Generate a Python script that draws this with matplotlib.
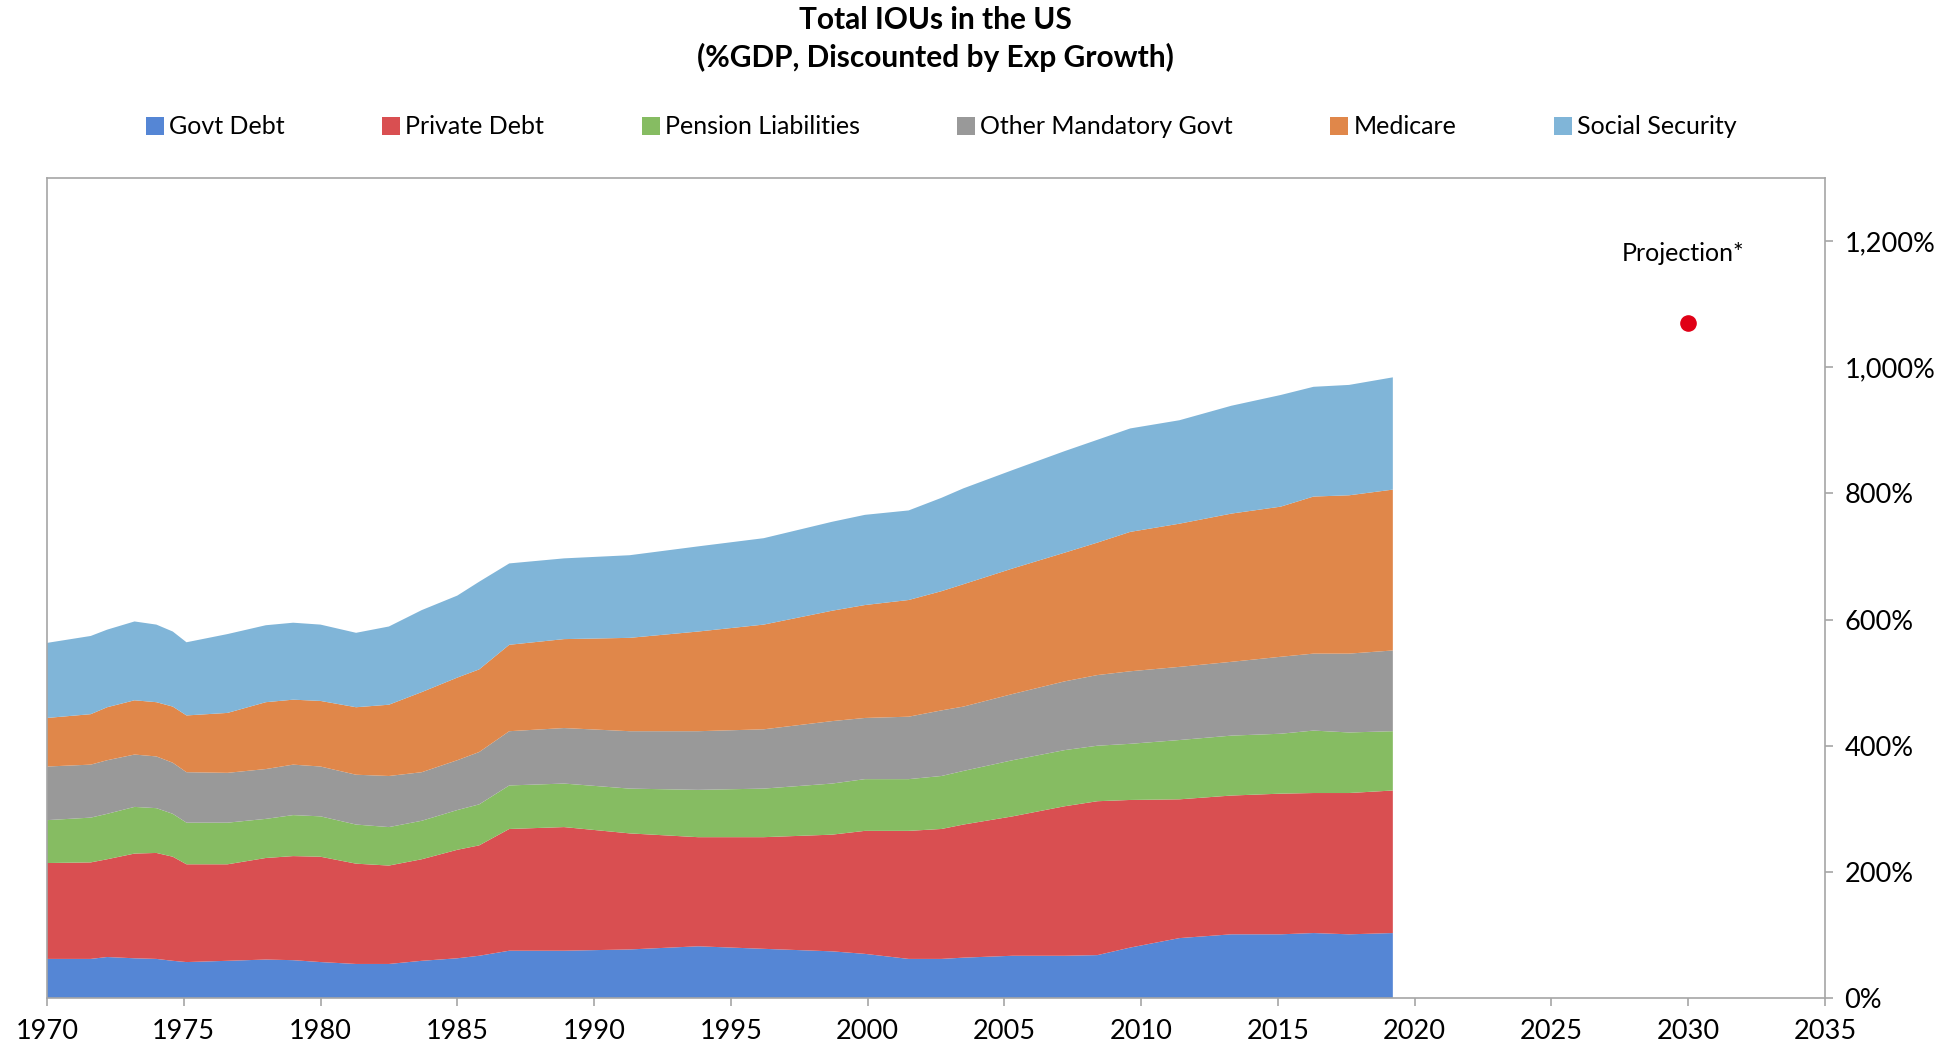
import matplotlib.pyplot as plt
from matplotlib.ticker import FuncFormatter

# Sample points (% of GDP, per component)
years = [1970.0, 1971.6, 1972.2, 1973.2, 1974.0, 1974.6, 1975.1, 1976.6, 1978.0, 1979.0,
         1980.0, 1981.3, 1982.5, 1983.7, 1985.0, 1985.8, 1986.9, 1988.9, 1991.3, 1993.8,
         1996.2, 1998.7, 1999.9, 2001.5, 2002.7, 2003.5, 2005.3, 2007.2, 2008.4, 2009.6,
         2011.4, 2013.3, 2015.1, 2016.3, 2017.6, 2019.2]
govt_debt = [62, 62, 65, 63, 62, 59, 57, 59, 61, 60, 57, 54, 54, 59, 63, 67, 75, 75, 77,
             82, 78, 74, 70, 62, 62, 64, 67, 67, 68, 80, 95, 101, 101, 103, 101, 103]
private_debt = [152, 153, 155, 166, 168, 165, 155, 153, 161, 165, 167, 159, 156, 161,
                172, 175, 193, 196, 184, 173, 177, 185, 195, 203, 206, 211, 221, 237,
                244, 234, 220, 220, 223, 222, 224, 226]
pension = [68, 71, 72, 74, 71, 68, 66, 66, 62, 65, 64, 62, 61, 61, 63, 65, 69, 69, 71,
           75, 77, 81, 82, 82, 84, 85, 89, 89, 88, 89, 94, 95, 95, 99, 96, 94]
other_mandatory = [85, 84, 85, 83, 82, 81, 80, 79, 79, 80, 79, 79, 81, 77, 79, 83, 86,
                   88, 91, 93, 94, 99, 97, 99, 104, 102, 105, 109, 112, 115, 116, 117,
                   122, 122, 125, 128]
medicare = [77, 80, 84, 86, 86, 89, 90, 95, 106, 103, 104, 107, 113, 127, 131, 131, 137,
            141, 148, 158, 166, 175, 179, 185, 189, 194, 199, 204, 210, 221, 227, 235,
            238, 249, 251, 255]
social_security = [119, 124, 123, 125, 123, 119, 116, 125, 122, 122, 121, 118, 124, 130,
                   130, 139, 129, 128, 131, 135, 137, 141, 143, 142, 148, 152, 156, 161,
                   163, 164, 164, 171, 177, 174, 175, 178]

labels = ["Govt Debt", "Private Debt", "Pension Liabilities", "Other Mandatory Govt",
          "Medicare", "Social Security"]
colors = ["#5586d5", "#d94f51", "#86bc62", "#999999", "#e0874a", "#80b5d8"]

proj_year = [2030]
proj_value = [1070]

plt.rcParams["font.family"] = ["Lato", "DejaVu Sans"]

fig = plt.figure(figsize=(19.49, 10.49), dpi=100)
ax = fig.add_axes([0.0241, 0.0486, 0.9123, 0.7817])

ax.stackplot(years, govt_debt, private_debt, pension, other_mandatory, medicare,
             social_security, labels=labels, colors=colors, linewidth=0)
ax.scatter(proj_year, proj_value, s=120, color="#e00016", zorder=5)
ax.text(2029.8, 1181, "Projection*", ha="center", va="center", fontsize=18)

ax.set_xlim(1970, 2035)
ax.set_ylim(0, 1300)
ax.set_xticks(range(1970, 2036, 5))
ax.set_yticks(range(0, 1201, 200))
ax.yaxis.tick_right()
ax.yaxis.set_major_formatter(FuncFormatter(lambda v, p: f"{v:,.0f}%"))
ax.tick_params(axis="both", labelsize=19.5, color="#a6a6a6", length=6, width=1.2)
ax.tick_params(axis="y", pad=8)
ax.tick_params(axis="x", pad=9)
for s in ax.spines.values():
    s.set_color("#a6a6a6")
    s.set_linewidth(1.2)

fig.text(0.480, 0.994, "Total IOUs in the US\n(%GDP, Discounted by Exp Growth)",
         ha="center", va="top", fontsize=21.5, fontweight="bold", linespacing=1.35)

fig.legend(loc="center", bbox_to_anchor=(0.483, 0.879), ncol=6, frameon=False,
           fontsize=18, handlelength=0.72, handleheight=0.72, handletextpad=0.2,
           columnspacing=3.9)

plt.savefig("out.png", dpi=100)
